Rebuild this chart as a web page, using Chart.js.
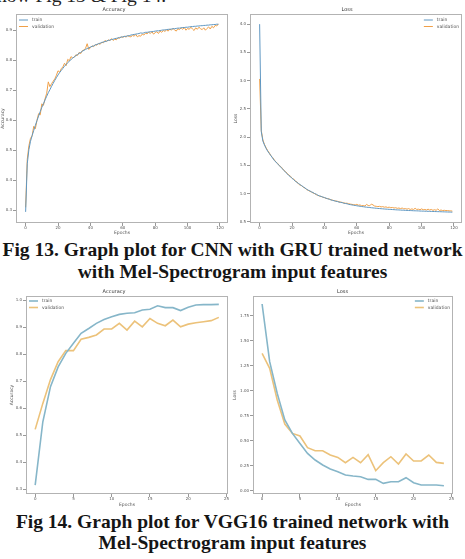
<!DOCTYPE html>
<html lang="en">
<head>
<meta charset="UTF-8">
<title>Fig 13 / Fig 14</title>
<script src="https://cdn.jsdelivr.net/npm/chart.js"></script>
<style>
  body { margin: 0; width: 465px; height: 559px; background: #fff; position: relative; overflow: hidden; }
  canvas { position: absolute; }
  .cap { position: absolute; left: 0; width: 465px; text-align: center; font-family: "Liberation Serif", "Times New Roman", serif;
         font-weight: bold; font-size: 19.5px; line-height: 20px; color: #151515; white-space: nowrap; }
  #topo { position: absolute; left: -3px; top: -14px; font-family: "Liberation Serif", serif; font-size: 19.5px; line-height: 20px; color: #222; white-space: nowrap; }
</style>
</head>
<body>
<div id="topo">how Fig 13 &amp; Fig 14.</div>

<canvas id="g1" width="232" height="236" style="left:0;top:0"></canvas>
<canvas id="g2" width="233" height="236" style="left:232px;top:0"></canvas>
<div class="cap" style="top:240px">Fig 13. Graph plot for CNN with GRU trained network</div>
<div class="cap" style="top:262px">with Mel-Spectrogram input features</div>

<canvas id="g3" width="232" height="222" style="left:0;top:286px"></canvas>
<canvas id="g4" width="233" height="222" style="left:232px;top:286px"></canvas>
<div class="cap" style="top:512px">Fig 14. Graph plot for VGG16 trained network with</div>
<div class="cap" style="top:533px">Mel-Spectrogram input features</div>

<script>
// ---- dados ----
const epocasLongas = Array.from({ length: 120 }, (_, i) => i);
const epocasCurtas = Array.from({ length: 25 }, (_, i) => i);

// Fig 13 - CNN + GRU, accuracy
const accTreinoCnn = [
  0.295, 0.455, 0.502, 0.530, 0.549, 0.566, 0.583, 0.599, 0.614, 0.629,
  0.643, 0.655, 0.668, 0.680, 0.692, 0.702, 0.713, 0.723, 0.733, 0.742,
  0.751, 0.759, 0.766, 0.773, 0.780, 0.786, 0.792, 0.797, 0.802, 0.807,
  0.811, 0.815, 0.819, 0.823, 0.826, 0.830, 0.833, 0.836, 0.839, 0.841,
  0.844, 0.846, 0.848, 0.851, 0.853, 0.855, 0.857, 0.859, 0.861, 0.862,
  0.864, 0.866, 0.867, 0.869, 0.870, 0.872, 0.873, 0.874, 0.876, 0.877,
  0.878, 0.879, 0.880, 0.881, 0.882, 0.884, 0.885, 0.886, 0.887, 0.888,
  0.889, 0.891, 0.890, 0.891, 0.893, 0.893, 0.894, 0.895, 0.895, 0.896,
  0.897, 0.898, 0.898, 0.899, 0.900, 0.901, 0.901, 0.902, 0.903, 0.903,
  0.904, 0.905, 0.905, 0.906, 0.907, 0.907, 0.908, 0.909, 0.909, 0.910,
  0.910, 0.911, 0.912, 0.912, 0.913, 0.913, 0.914, 0.914, 0.915, 0.915,
  0.916, 0.916, 0.917, 0.917, 0.918, 0.918, 0.919, 0.919, 0.920, 0.920
];
const accValidCnn = [
  0.310, 0.470, 0.515, 0.540, 0.548, 0.580, 0.572, 0.600, 0.622, 0.618,
  0.655, 0.650, 0.672, 0.690, 0.728, 0.712, 0.722, 0.730, 0.738, 0.750,
  0.765, 0.760, 0.772, 0.778, 0.790, 0.782, 0.803, 0.798, 0.812, 0.808,
  0.810, 0.818, 0.816, 0.826, 0.822, 0.832, 0.834, 0.840, 0.855, 0.836,
  0.842, 0.848, 0.845, 0.852, 0.850, 0.856, 0.853, 0.860, 0.858, 0.866,
  0.862, 0.868, 0.865, 0.872, 0.866, 0.870, 0.868, 0.875, 0.873, 0.878,
  0.876, 0.880, 0.877, 0.882, 0.879, 0.878, 0.883, 0.880, 0.886, 0.878,
  0.882, 0.880, 0.887, 0.884, 0.890, 0.888, 0.893, 0.889, 0.895, 0.887,
  0.892, 0.895, 0.889, 0.897, 0.893, 0.899, 0.896, 0.901, 0.897, 0.904,
  0.900, 0.906, 0.901, 0.897, 0.905, 0.902, 0.908, 0.903, 0.909, 0.900,
  0.906, 0.903, 0.910, 0.904, 0.899, 0.908, 0.903, 0.910, 0.905, 0.902,
  0.908, 0.900, 0.906, 0.911, 0.904, 0.913, 0.908, 0.916, 0.914, 0.921
];

// Fig 13 - CNN + GRU, loss
const lossTreinoCnn = [
  4.00, 2.10, 1.93, 1.86, 1.80, 1.75, 1.71, 1.67, 1.63, 1.59,
  1.56, 1.53, 1.50, 1.47, 1.44, 1.41, 1.38, 1.35, 1.32, 1.30,
  1.27, 1.25, 1.22, 1.20, 1.18, 1.16, 1.14, 1.12, 1.10, 1.08,
  1.06, 1.05, 1.03, 1.02, 1.00, 0.99, 0.97, 0.96, 0.95, 0.94,
  0.93, 0.92, 0.91, 0.90, 0.89, 0.88, 0.875, 0.865, 0.86, 0.85,
  0.845, 0.84, 0.83, 0.825, 0.82, 0.81, 0.805, 0.80, 0.795, 0.79,
  0.785, 0.78, 0.776, 0.772, 0.768, 0.764, 0.76, 0.757, 0.754, 0.75,
  0.747, 0.744, 0.741, 0.738, 0.736, 0.733, 0.731, 0.728, 0.726, 0.724,
  0.722, 0.72, 0.718, 0.716, 0.714, 0.712, 0.711, 0.709, 0.707, 0.706,
  0.704, 0.703, 0.701, 0.70, 0.699, 0.697, 0.696, 0.695, 0.694, 0.692,
  0.691, 0.69, 0.689, 0.688, 0.687, 0.686, 0.685, 0.684, 0.683, 0.682,
  0.681, 0.68, 0.679, 0.678, 0.677, 0.676, 0.675, 0.674, 0.673, 0.672
];
const lossValidCnn = [
  3.03, 2.12, 1.95, 1.87, 1.81, 1.76, 1.72, 1.67, 1.64, 1.60,
  1.56, 1.54, 1.50, 1.48, 1.45, 1.41, 1.39, 1.36, 1.33, 1.31,
  1.27, 1.26, 1.22, 1.21, 1.17, 1.15, 1.14, 1.11, 1.10, 1.07,
  1.06, 1.04, 1.03, 1.01, 1.00, 0.98, 0.97, 0.955, 0.95, 0.935,
  0.93, 0.915, 0.91, 0.905, 0.89, 0.885, 0.875, 0.87, 0.865, 0.855,
  0.85, 0.845, 0.835, 0.83, 0.83, 0.82, 0.815, 0.81, 0.805, 0.80,
  0.81, 0.795, 0.80, 0.785, 0.79, 0.78, 0.81, 0.79, 0.785, 0.815,
  0.80, 0.78, 0.775, 0.77, 0.775, 0.765, 0.77, 0.76, 0.765, 0.755,
  0.76, 0.75, 0.755, 0.745, 0.75, 0.74, 0.745, 0.735, 0.745, 0.73,
  0.735, 0.725, 0.735, 0.72, 0.73, 0.72, 0.74, 0.72, 0.725, 0.715,
  0.73, 0.715, 0.72, 0.71, 0.725, 0.71, 0.72, 0.705, 0.715, 0.705,
  0.73, 0.70, 0.71, 0.70, 0.705, 0.70, 0.70, 0.695, 0.695, 0.69
];

// Fig 14 - VGG16
const accTreinoVgg = [0.316, 0.55, 0.68, 0.753, 0.803, 0.84, 0.877, 0.895, 0.914, 0.928,
  0.938, 0.947, 0.951, 0.953, 0.963, 0.966, 0.979, 0.972, 0.972, 0.961,
  0.973, 0.982, 0.983, 0.983, 0.984];
const accValidVgg = [0.522, 0.618, 0.706, 0.772, 0.813, 0.813, 0.855, 0.862, 0.871, 0.893,
  0.893, 0.914, 0.889, 0.922, 0.901, 0.932, 0.914, 0.905, 0.926, 0.901,
  0.911, 0.916, 0.92, 0.924, 0.936];
const lossTreinoVgg = [1.867, 1.29, 0.973, 0.707, 0.573, 0.473, 0.373, 0.307, 0.257, 0.217,
  0.19, 0.157, 0.147, 0.14, 0.113, 0.113, 0.073, 0.09, 0.09, 0.13,
  0.08, 0.057, 0.057, 0.057, 0.05];
const lossValidVgg = [1.373, 1.223, 0.907, 0.667, 0.573, 0.547, 0.43, 0.40, 0.40, 0.357,
  0.333, 0.28, 0.333, 0.28, 0.36, 0.20, 0.28, 0.34, 0.267, 0.367,
  0.297, 0.297, 0.357, 0.283, 0.273];

// ticks
const ticksXLongo = [0, 20, 40, 60, 80, 100, 120];
const ticksXCurto = [0, 5, 10, 15, 20, 25];
const ticksAccCnn = [0.3, 0.4, 0.5, 0.6, 0.7, 0.8, 0.9];
const ticksLossCnn = [0.5, 1.0, 1.5, 2.0, 2.5, 3.0, 3.5, 4.0];
const ticksAccVgg = [0.3, 0.4, 0.5, 0.6, 0.7, 0.8, 0.9, 1.0];
const ticksLossVgg = [0, 0.25, 0.5, 0.75, 1.0, 1.25, 1.5, 1.75];

Chart.defaults.font.family = '"DejaVu Sans", sans-serif';
Chart.defaults.font.size = 4.5;
Chart.defaults.color = '#555';

// moldura do grafico (estilo matplotlib)
const moldura = {
  id: 'moldura',
  afterDraw(chart) {
    const a = chart.chartArea, ctx = chart.ctx;
    ctx.save();
    ctx.strokeStyle = '#b3b3b3';
    ctx.lineWidth = 1;
    ctx.strokeRect(Math.round(a.left) + 0.5, Math.round(a.top) + 0.5,
      Math.round(a.right - a.left) - 1, Math.round(a.bottom - a.top) - 1);
    ctx.restore();
  }
};

// legenda dentro da area do grafico
const legendaDentro = {
  id: 'legendaDentro',
  afterDatasetsDraw(chart, args, opts) {
    const a = chart.chartArea, ctx = chart.ctx;
    ctx.save();
    ctx.font = '4.5px "DejaVu Sans"';
    ctx.textBaseline = 'middle';
    const larguraTexto = Math.max(...chart.data.datasets.map(d => ctx.measureText(d.label).width));
    const linha = 9;
    let x0 = opts.lado === 'esq' ? a.left + 3 : a.right - 3 - larguraTexto - 4 - linha;
    chart.data.datasets.forEach((ds, i) => {
      const y = a.top + opts.dy + i * 6.5;
      ctx.strokeStyle = ds.borderColor;
      ctx.lineWidth = ds.borderWidth;
      ctx.beginPath();
      ctx.moveTo(x0, y);
      ctx.lineTo(x0 + linha, y);
      ctx.stroke();
      ctx.fillStyle = '#555';
      ctx.fillText(ds.label, x0 + linha + 4, y);
    });
    ctx.restore();
  }
};

function criarGrafico(id, cfg) {
  const pontos = (ys) => ys.map((v, i) => ({ x: cfg.epocas[i], y: v }));
  return new Chart(document.getElementById(id), {
    type: 'line',
    data: {
      datasets: [
        { label: 'train', data: pontos(cfg.treino), borderColor: cfg.corTreino, borderWidth: cfg.espessura, pointRadius: 0, tension: 0 },
        { label: 'validation', data: pontos(cfg.valid), borderColor: cfg.corValid, borderWidth: cfg.espessura, pointRadius: 0, tension: 0 }
      ]
    },
    options: {
      responsive: false,
      animation: false,
      devicePixelRatio: 1,
      layout: { padding: { top: cfg.padTopo, right: cfg.padDir, left: 0, bottom: 0 } },
      plugins: {
        legend: { display: false },
        tooltip: { enabled: false },
        title: { display: true, text: cfg.titulo, color: '#333', font: { size: 5, weight: 'normal' }, padding: { top: 0, bottom: 1 } },
        legendaDentro: { lado: cfg.ladoLegenda, dy: cfg.dyLegenda }
      },
      scales: {
        x: {
          type: 'linear', min: cfg.xMin, max: cfg.xMax,
          afterBuildTicks: s => { s.ticks = cfg.ticksX.map(v => ({ value: v })); },
          afterFit: s => { s.height = cfg.alturaX; },
          grid: { display: true, drawOnChartArea: false, drawTicks: true, tickLength: 3, tickColor: '#999' },
          border: { display: false },
          ticks: { padding: 0, maxRotation: 0, font: { size: 4 }, callback: v => String(v) },
          title: { display: true, text: 'Epochs', padding: 0, font: { size: 4.5 } }
        },
        y: {
          min: cfg.yMin, max: cfg.yMax,
          afterBuildTicks: s => { s.ticks = cfg.ticksY.map(v => ({ value: v })); },
          afterFit: s => { s.width = cfg.larguraY; },
          grid: { display: true, drawOnChartArea: false, drawTicks: true, tickLength: 3, tickColor: '#999' },
          border: { display: false },
          ticks: { padding: 1, font: { size: 4 }, callback: v => v.toFixed(cfg.casas) },
          title: { display: true, text: cfg.tituloY, padding: { top: cfg.padTituloY, bottom: 0 }, font: { size: 4.5 } }
        }
      }
    },
    plugins: [moldura, legendaDentro]
  });
}

const corTreino1 = '#5f97c2', corValid1 = '#f0a048';
const corTreino2 = '#86b6c9', corValid2 = '#ecc27a';

criarGrafico('g1', {
  titulo: 'Accuracy', tituloY: 'Accuracy', epocas: epocasLongas, treino: accTreinoCnn, valid: accValidCnn,
  corTreino: corTreino1, corValid: corValid1, espessura: 1,
  xMin: -5.95, xMax: 124.95, yMin: 0.258, yMax: 0.954, ticksX: ticksXLongo, ticksY: ticksAccCnn, casas: 1,
  padTopo: 7, padDir: 4, larguraY: 16, alturaX: 13, padTituloY: 0, ladoLegenda: 'esq', dyLegenda: 6
});
criarGrafico('g2', {
  titulo: 'Loss', tituloY: 'Loss', epocas: epocasLongas, treino: lossTreinoCnn, valid: lossValidCnn,
  corTreino: corTreino1, corValid: corValid1, espessura: 1,
  xMin: -5.95, xMax: 124.95, yMin: 0.48, yMax: 4.18, ticksX: ticksXLongo, ticksY: ticksLossCnn, casas: 1,
  padTopo: 7, padDir: 3, larguraY: 18, alturaX: 13, padTituloY: 1, ladoLegenda: 'dir', dyLegenda: 6
});
criarGrafico('g3', {
  titulo: 'Accuracy', tituloY: 'Accuracy', epocas: epocasCurtas, treino: accTreinoVgg, valid: accValidVgg,
  corTreino: corTreino2, corValid: corValid2, espessura: 1.6,
  xMin: -1.2, xMax: 25.2, yMin: 0.283, yMax: 1.015, ticksX: ticksXCurto, ticksY: ticksAccVgg, casas: 1,
  padTopo: 3, padDir: 4, larguraY: 26, alturaX: 14, padTituloY: 9, ladoLegenda: 'esq', dyLegenda: 5
});
criarGrafico('g4', {
  titulo: 'Loss', tituloY: 'Loss', epocas: epocasCurtas, treino: lossTreinoVgg, valid: lossValidVgg,
  corTreino: corTreino2, corValid: corValid2, espessura: 1.6,
  xMin: -1.2, xMax: 25.2, yMin: -0.033, yMax: 1.947, ticksX: ticksXCurto, ticksY: ticksLossVgg, casas: 2,
  padTopo: 3, padDir: 12, larguraY: 21, alturaX: 14, padTituloY: 0, ladoLegenda: 'dir', dyLegenda: 5
});
</script>
</body>
</html>
